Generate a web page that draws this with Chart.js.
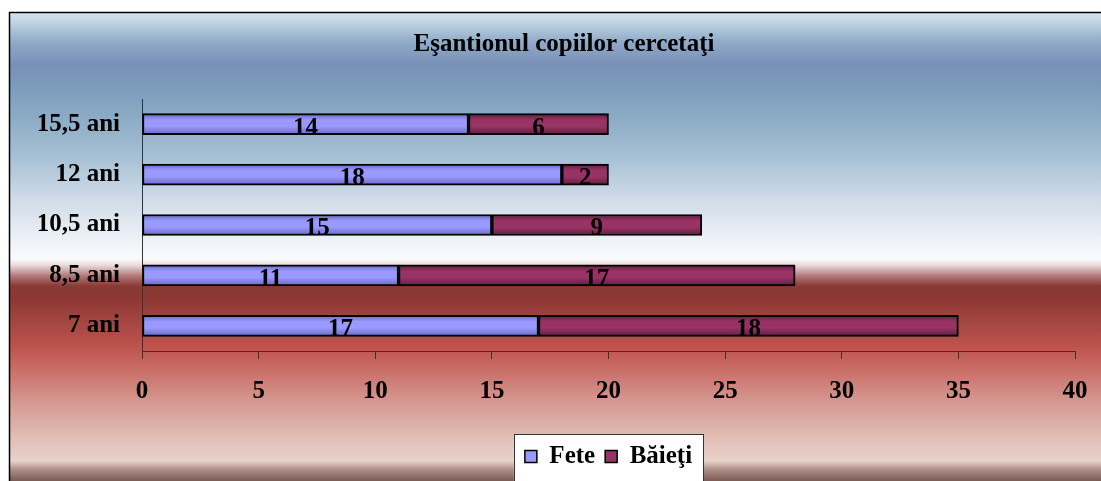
<!DOCTYPE html>
<html>
<head>
<meta charset="utf-8">
<script src="https://cdn.jsdelivr.net/npm/chart.js@4/dist/chart.umd.min.js"></script>
<style>
  html, body { margin: 0; padding: 0; background: #ffffff; }
  #wrap { width: 1101px; height: 481px; position: relative; }
</style>
</head>
<body>
<div id="wrap"><canvas id="c" width="1101" height="481"></canvas></div>
<script>
const chartTitle = 'Eşantionul copiilor cercetaţi';
const categories = ['15,5 ani', '12 ani', '10,5 ani', '8,5 ani', '7 ani'];
const seriesNames = ['Fete', 'Băieţi'];
const feteValues = [14, 18, 15, 11, 17];
const baietiValues = [6, 2, 9, 17, 18];
const xTicksMin = 0;
const xTicksMax = 40;
const xTicksStep = 5;

const FONT = '"Liberation Serif", "Times New Roman", serif';
const solidColors = ['#9999ff', '#993366'];
const edgeColors = ['#6868c4', '#5e1f40'];

function barGradient(idx) {
  return function (ctx) {
    const chart = ctx.chart;
    const ys = chart.scales && chart.scales.y;
    if (!ys || !chart.chartArea || ctx.dataIndex === undefined) return solidColors[idx];
    const yc = ys.getPixelForValue(ctx.dataIndex);
    const h = 21;
    const g = chart.ctx.createLinearGradient(0, yc - h / 2, 0, yc + h / 2);
    g.addColorStop(0, edgeColors[idx]);
    g.addColorStop(0.3, solidColors[idx]);
    g.addColorStop(0.6, solidColors[idx]);
    g.addColorStop(1, edgeColors[idx]);
    return g;
  };
}

const bgPlugin = {
  id: 'bg',
  beforeDraw(chart) {
    const c = chart.ctx;
    const W = chart.width, H = chart.height;
    c.save();
    c.fillStyle = '#ffffff';
    c.fillRect(0, 0, W, H);
    const top = 12, bottom = H;
    const g = c.createLinearGradient(0, top, 0, bottom);
    const stops = [
      [13, '#d6e4ee'], [25, '#b8cfe0'], [42, '#90aac8'], [65, '#7890b8'],
      [85, '#7c9abc'], [115, '#8aaac4'], [155, '#a6bfd4'], [200, '#d0dce8'],
      [240, '#eef2f7'], [259, '#fafbfd'], [265, '#ecdcdc'], [276, '#b07878'],
      [286, '#8a3a34'], [298, '#8c3732'], [322, '#a44642'], [345, '#bc524c'],
      [365, '#c86862'], [400, '#d4968e'], [440, '#e2c0b8'], [461, '#e8d2cc'],
      [469, '#b0928a'], [481, '#7a5a52']
    ];
    stops.forEach(s => g.addColorStop((s[0] - top) / (bottom - top), s[1]));
    c.fillStyle = g;
    c.fillRect(10, top, W - 10, bottom - top);
    c.strokeStyle = '#000000';
    c.lineWidth = 1.5;
    c.beginPath();
    c.moveTo(9.5, H + 2);
    c.lineTo(9.5, 12.5);
    c.lineTo(W + 2, 12.5);
    c.stroke();

    // legend white box
    const lg = chart.legend;
    if (lg && lg.legendHitBoxes && lg.legendHitBoxes.length) {
      let l = Infinity, r = -Infinity;
      lg.legendHitBoxes.forEach(hb => { l = Math.min(l, hb.left); r = Math.max(r, hb.left + hb.width); });
      c.fillStyle = '#ffffff';
      c.fillRect(l - 11, lg.top, (r - l) + 22, H - lg.top + 5);
      c.strokeStyle = '#333333';
      c.lineWidth = 1;
      c.strokeRect(Math.round(l - 11) + 0.5, Math.round(lg.top) + 0.5, Math.round(r - l + 22), H - lg.top + 10);
    }

    // title
    c.fillStyle = '#000000';
    c.font = 'bold 25px ' + FONT;
    c.textAlign = 'center';
    c.textBaseline = 'middle';
    c.fillText(chartTitle, 564, 45);
    c.restore();
  }
};

const labelPlugin = {
  id: 'valueLabels',
  afterDatasetsDraw(chart) {
    const c = chart.ctx;
    c.save();
    c.fillStyle = '#000000';
    c.font = 'bold 25px ' + FONT;
    c.textAlign = 'center';
    c.textBaseline = 'middle';
    chart.data.datasets.forEach((ds, di) => {
      const meta = chart.getDatasetMeta(di);
      meta.data.forEach((el, i) => {
        const x = (el.x + el.base) / 2;
        c.fillText(String(ds.data[i]), x, el.y + 4);
      });
    });
    c.restore();
  }
};

new Chart(document.getElementById('c'), {
  type: 'bar',
  data: {
    labels: categories,
    datasets: [
      {
        label: seriesNames[0],
        data: feteValues,
        backgroundColor: barGradient(0),
        borderColor: '#000000',
        borderWidth: 2,
        borderSkipped: false,
        barThickness: 21
      },
      {
        label: seriesNames[1],
        data: baietiValues,
        backgroundColor: barGradient(1),
        borderColor: '#000000',
        borderWidth: 2,
        borderSkipped: false,
        barThickness: 21
      }
    ]
  },
  options: {
    indexAxis: 'y',
    responsive: false,
    animation: false,
    devicePixelRatio: 1,
    layout: { padding: { left: 10, right: 26, top: 99, bottom: 2 } },
    plugins: {
      title: { display: false },
      tooltip: { enabled: false },
      legend: {
        display: true,
        position: 'bottom',
        fullSize: false,
        labels: {
          color: '#000000',
          font: { family: FONT, size: 25, weight: 'bold' },
          boxWidth: 12,
          boxHeight: 12,
          padding: 10,
          generateLabels(chart) {
            return chart.data.datasets.map((ds, i) => ({
              text: ds.label,
              fillStyle: solidColors[i],
              strokeStyle: '#000000',
              lineWidth: 1.5,
              hidden: false,
              datasetIndex: i,
              fontColor: '#000000'
            }));
          }
        }
      }
    },
    scales: {
      x: {
        stacked: true,
        min: xTicksMin,
        max: xTicksMax,
        ticks: {
          stepSize: xTicksStep,
          color: '#000000',
          font: { family: FONT, size: 25, weight: 'bold' },
          padding: 18,
          maxRotation: 0
        },
        grid: {
          display: true,
          drawOnChartArea: false,
          drawTicks: true,
          tickLength: 8,
          color: '#333333',
          lineWidth: 1
        },
        border: { display: true, color: '#333333', width: 1 },
        afterFit(scale) {
          scale.height = 83;
          scale.paddingRight = 13;
          scale.paddingLeft = 13;
        }
      },
      y: {
        stacked: true,
        ticks: {
          color: '#000000',
          font: { family: FONT, size: 25, weight: 'bold' },
          padding: 22
        },
        grid: { display: false, drawTicks: false },
        border: { display: true, color: '#333333', width: 1 },
        afterFit(scale) { scale.width = 132; }
      }
    }
  },
  plugins: [bgPlugin, labelPlugin]
});
</script>
</body>
</html>
